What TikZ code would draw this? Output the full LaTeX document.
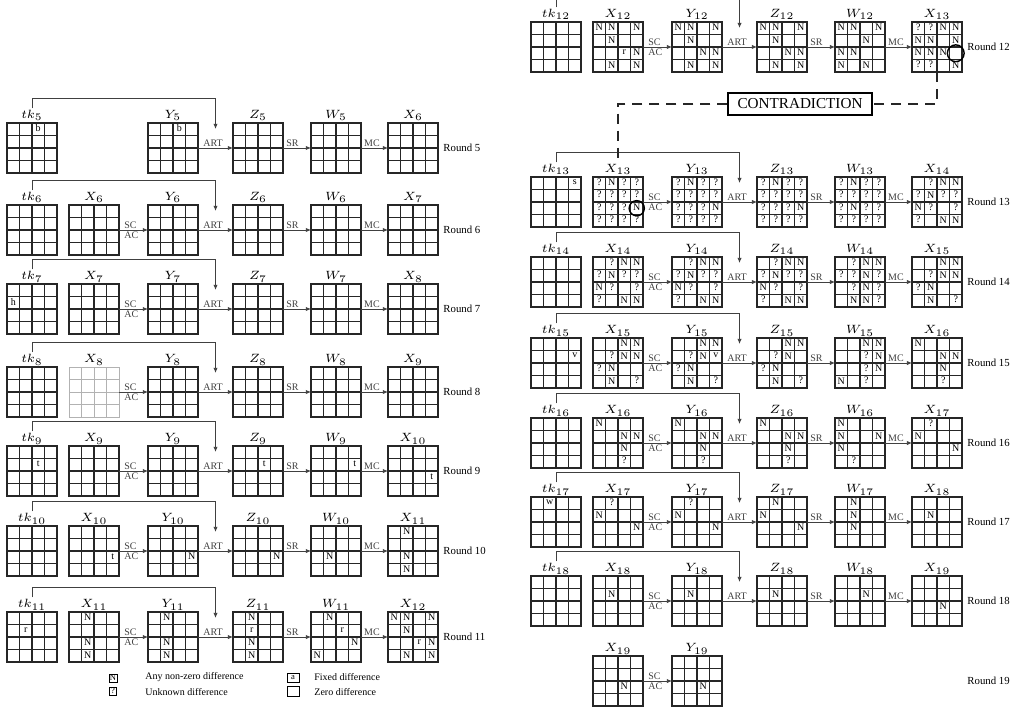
\documentclass[tikz,border=0pt]{standalone}
\usepackage{fontspec}
\setmainfont{Liberation Serif}
\usetikzlibrary{arrows.meta, positioning, calc}

\tikzset{
  stbox/.style  = {minimum size=25pt, inner sep=0pt, outer sep=0pt, anchor=north west},
  gline/.style  = {line width=0.7pt, line cap=rect, black!85},
  fline/.style  = {line width=0.5pt, line cap=rect, black!30},
  cellmark/.style = {inner sep=0pt, yshift=0.5pt, font=\fontsize{5}{5}\selectfont},
  slbl/.style   = {inner sep=0.8pt, font=\fontsize{6.2}{7}\selectfont},
  arr/.style    = {-{Latex[length=2.6pt,width=2.2pt]}, line width=0.45pt, black!75},
  opl/.style    = {inner sep=0.7pt, font=\fontsize{5}{6}\selectfont},
  rlbl/.style   = {anchor=west, inner sep=0pt, font=\fontsize{5.4}{6}\selectfont},
  ring/.style   = {line width=0.7pt, black},
  dline/.style  = {line width=0.6pt, black!85, dash pattern=on 5pt off 3.5pt},
  contra/.style = {draw, line width=0.6pt, minimum width=72pt, minimum height=11pt,
                   inner sep=2pt, font=\fontsize{7.6}{8}\selectfont},
  legbox/.style = {draw, line width=0.35pt, inner sep=0.4pt, minimum width=3.8pt,
                   minimum height=4pt, font=\fontsize{4.3}{4.5}\selectfont},
  legtxt/.style = {anchor=west, inner sep=0pt, font=\fontsize{5}{5.5}\selectfont},
}

% one 4x4 state: [line style] name, x, y (top left), label
\newcommand\stt[5][gline]{%
  \node[stbox] (#2) at (#3,#4) {};
  \foreach \k in {0,...,4} {
    \draw[#1] (#3+\k*12.5,#4) -- ++(0,50);
    \draw[#1] (#3,#4+\k*12.5) -- ++(50,0);
  }
  \node[slbl, above=0pt of #2] (#2-l) {$#5$};
}

% marked cells: state name, list of row/col/text
\newcommand\cells[2]{%
  \foreach \ri/\ci/\ti in {#2} {
    \node[cellmark] (#1-\ri\ci) at ($(#1.north west)+(\ci*12.5+6.25,\ri*12.5+6.25)$) {\ti};
  }
}

% a whole round: [style of X] round, x of tk, y top
\newcommand\fullround[4][gline]{%
  \stt{r#2tk}{#3}{#4}{tk_{#2}}
  \stt[#1]{r#2X}{#3+62}{#4}{X_{#2}}
  \stt{r#2Y}{#3+141}{#4}{Y_{#2}}
  \stt{r#2Z}{#3+226}{#4}{Z_{#2}}
  \stt{r#2W}{#3+304}{#4}{W_{#2}}
  \stt{r#2N}{#3+381}{#4}{X_{\the\numexpr#2+1\relax}}
  \draw[arr] (r#2X) -- node[opl, pos=.12, anchor=south west] (r#2sc) {SC}
                       node[opl, pos=.12, anchor=north west] (r#2ac) {AC} (r#2Y);
  \draw[arr] (r#2Y) -- node[opl, pos=.1, anchor=south west] (r#2art) {ART} (r#2Z);
  \draw[arr] (r#2Z) -- node[opl, pos=.05, anchor=south west] (r#2sr) {SR} (r#2W);
  \draw[arr] (r#2W) -- node[opl, pos=.05, anchor=south west] (r#2mc) {MC} (r#2N);
  \coordinate (r#2k) at ($(r#2Y.east)!0.5!(r#2Z.west)$);
  \draw[arr] (r#2tk-l.north) |- ([yshift=25pt]r#2k) -- ([yshift=9.5pt]r#2k);
  \node[rlbl] (r#2lab) at (#3+436,#4+25) {Round #2};
}

\begin{document}
\begin{tikzpicture}[x=0.5pt, y=-0.5pt]
  \useasboundingbox (0,0) rectangle (1016,711);

  % --- left column: rounds 5 to 11 ---
  \stt{r5tk}{7}{123}{tk_{5}}
  \stt{r5Y}{148}{123}{Y_{5}}
  \stt{r5Z}{233}{123}{Z_{5}}
  \stt{r5W}{311}{123}{W_{5}}
  \stt{r5N}{388}{123}{X_{6}}
  \draw[arr] (r5Y) -- node[opl, pos=.1, anchor=south west] (r5art) {ART} (r5Z);
  \draw[arr] (r5Z) -- node[opl, pos=.05, anchor=south west] (r5sr) {SR} (r5W);
  \draw[arr] (r5W) -- node[opl, pos=.05, anchor=south west] (r5mc) {MC} (r5N);
  \coordinate (r5k) at ($(r5Y.east)!0.5!(r5Z.west)$);
  \draw[arr] (r5tk-l.north) |- ([yshift=25pt]r5k) -- ([yshift=9.5pt]r5k);
  \node[rlbl] (r5lab) at (443,148) {Round 5};
  \cells{r5tk}{0/2/b}
  \cells{r5Y}{0/2/b}

  \fullround{6}{7}{205}
  \fullround{7}{7}{284}
  \cells{r7tk}{1/0/h}
  \fullround[fline]{8}{7}{367}
  \fullround{9}{7}{446}
  \cells{r9tk}{1/2/t}
  \cells{r9Z}{1/2/t}
  \cells{r9W}{1/3/t}
  \cells{r9N}{2/3/t}
  \fullround{10}{7}{526}
  \cells{r10X}{2/3/t}
  \cells{r10Y}{2/3/N}
  \cells{r10Z}{2/3/N}
  \cells{r10W}{2/1/N}
  \cells{r10N}{0/1/N, 2/1/N, 3/1/N}
  \fullround{11}{7}{612}
  \cells{r11tk}{1/1/r}
  \cells{r11X}{0/1/N, 2/1/N, 3/1/N}
  \cells{r11Y}{0/1/N, 2/1/N, 3/1/N}
  \cells{r11Z}{0/1/N, 1/1/r, 2/1/N, 3/1/N}
  \cells{r11W}{0/1/N, 1/2/r, 2/3/N, 3/0/N}
  \cells{r11N}{0/0/N, 0/1/N, 0/3/N, 1/1/N, 2/2/r, 2/3/N, 3/1/N, 3/3/N}

  % --- right column: rounds 12 to 19 ---
  \fullround{12}{531}{22}
  \cells{r12X}{0/0/N, 0/1/N, 0/3/N, 1/1/N, 2/2/r, 2/3/N, 3/1/N, 3/3/N}
  \cells{r12Y}{0/0/N, 0/1/N, 0/3/N, 1/1/N, 2/2/N, 2/3/N, 3/1/N, 3/3/N}
  \cells{r12Z}{0/0/N, 0/1/N, 0/3/N, 1/1/N, 2/2/N, 2/3/N, 3/1/N, 3/3/N}
  \cells{r12W}{0/0/N, 0/1/N, 0/3/N, 1/2/N, 2/0/N, 2/1/N, 3/0/N, 3/2/N}
  \cells{r12N}{0/0/?, 0/1/?, 0/2/N, 0/3/N, 1/0/N, 1/1/N, 1/3/N,
               2/0/N, 2/1/N, 2/2/N, 3/0/?, 3/1/?, 3/3/N}
  \draw[ring] ($(r12N.north west)+(43.75,31.25)$) circle[radius=4.2pt];

  \fullround{13}{531}{177}
  \cells{r13tk}{0/3/s}
  \cells{r13X}{0/0/?, 0/1/N, 0/2/?, 0/3/?, 1/0/?, 1/1/?, 1/2/?, 1/3/?,
               2/0/?, 2/1/?, 2/2/?, 2/3/N, 3/0/?, 3/1/?, 3/2/?, 3/3/?}
  \cells{r13Y}{0/0/?, 0/1/N, 0/2/?, 0/3/?, 1/0/?, 1/1/?, 1/2/?, 1/3/?,
               2/0/?, 2/1/?, 2/2/?, 2/3/N, 3/0/?, 3/1/?, 3/2/?, 3/3/?}
  \cells{r13Z}{0/0/?, 0/1/N, 0/2/?, 0/3/?, 1/0/?, 1/1/?, 1/2/?, 1/3/?,
               2/0/?, 2/1/?, 2/2/?, 2/3/N, 3/0/?, 3/1/?, 3/2/?, 3/3/?}
  \cells{r13W}{0/0/?, 0/1/N, 0/2/?, 0/3/?, 1/0/?, 1/1/?, 1/2/?, 1/3/?,
               2/0/?, 2/1/N, 2/2/?, 2/3/?, 3/0/?, 3/1/?, 3/2/?, 3/3/?}
  \cells{r13N}{0/1/?, 0/2/N, 0/3/N, 1/0/?, 1/1/N, 1/2/?, 1/3/?,
               2/0/N, 2/1/?, 2/3/?, 3/0/?, 3/2/N, 3/3/N}
  \draw[ring] ($(r13X.north west)+(43.75,31.25)$) circle[radius=3.8pt];

  % contradiction between rounds 12 and 13
  \node[contra] (contra) at (800,104) {CONTRADICTION};
  \draw[dline] (r12N.south) |- (contra.east);
  \draw[dline] (contra.west) -| (r13X-l.north);

  \fullround{14}{531}{257}
  \cells{r14X}{0/1/?, 0/2/N, 0/3/N, 1/0/?, 1/1/N, 1/2/?, 1/3/?,
               2/0/N, 2/1/?, 2/3/?, 3/0/?, 3/2/N, 3/3/N}
  \cells{r14Y}{0/1/?, 0/2/N, 0/3/N, 1/0/?, 1/1/N, 1/2/?, 1/3/?,
               2/0/N, 2/1/?, 2/3/?, 3/0/?, 3/2/N, 3/3/N}
  \cells{r14Z}{0/1/?, 0/2/N, 0/3/N, 1/0/?, 1/1/N, 1/2/?, 1/3/?,
               2/0/N, 2/1/?, 2/3/?, 3/0/?, 3/2/N, 3/3/N}
  \cells{r14W}{0/1/?, 0/2/N, 0/3/N, 1/0/?, 1/1/?, 1/2/N, 1/3/?,
               2/1/?, 2/2/N, 2/3/?, 3/1/N, 3/2/N, 3/3/?}
  \cells{r14N}{0/2/N, 0/3/N, 1/1/?, 1/2/N, 1/3/N, 2/0/?, 2/1/N, 3/1/N, 3/3/?}

  \fullround{15}{531}{338}
  \cells{r15tk}{1/3/v}
  \cells{r15X}{0/2/N, 0/3/N, 1/1/?, 1/2/N, 1/3/N, 2/0/?, 2/1/N, 3/1/N, 3/3/?}
  \cells{r15Y}{0/2/N, 0/3/N, 1/1/?, 1/2/N, 1/3/v, 2/0/?, 2/1/N, 3/1/N, 3/3/?}
  \cells{r15Z}{0/2/N, 0/3/N, 1/1/?, 1/2/N, 2/0/?, 2/1/N, 3/1/N, 3/3/?}
  \cells{r15W}{0/2/N, 0/3/N, 1/2/?, 1/3/N, 2/2/?, 2/3/N, 3/0/N, 3/2/?}
  \cells{r15N}{0/0/N, 1/2/N, 1/3/N, 2/2/N, 3/2/?}

  \fullround{16}{531}{418}
  \cells{r16X}{0/0/N, 1/2/N, 1/3/N, 2/2/N, 3/2/?}
  \cells{r16Y}{0/0/N, 1/2/N, 1/3/N, 2/2/N, 3/2/?}
  \cells{r16Z}{0/0/N, 1/2/N, 1/3/N, 2/2/N, 3/2/?}
  \cells{r16W}{0/0/N, 1/0/N, 1/3/N, 2/0/N, 3/1/?}
  \cells{r16N}{0/1/?, 1/0/N, 2/3/N}

  \fullround{17}{531}{497}
  \cells{r17tk}{0/1/w}
  \cells{r17X}{0/1/?, 1/0/N, 2/3/N}
  \cells{r17Y}{0/1/?, 1/0/N, 2/3/N}
  \cells{r17Z}{0/1/N, 1/0/N, 2/3/N}
  \cells{r17W}{0/1/N, 1/1/N, 2/1/N}
  \cells{r17N}{1/1/N}

  \fullround{18}{531}{576}
  \cells{r18X}{1/1/N}
  \cells{r18Y}{1/1/N}
  \cells{r18Z}{1/1/N}
  \cells{r18W}{1/2/N}
  \cells{r18N}{2/2/N}

  \stt{r19X}{593}{656}{X_{19}}
  \stt{r19Y}{672}{656}{Y_{19}}
  \draw[arr] (r19X) -- node[opl, pos=.12, anchor=south west] (r19sc) {SC}
                       node[opl, pos=.12, anchor=north west] (r19ac) {AC} (r19Y);
  \cells{r19X}{2/2/N}
  \cells{r19Y}{2/2/N}
  \node[rlbl] (r19lab) at (967,681) {Round 19};

  % legend
  \node[legbox] (legN) at (113,678) {N};
  \node[legtxt] (legNt) at (145,677) {Any non-zero difference};
  \node[legbox] (legQ) at (113,691) {?};
  \node[legtxt] (legQt) at (145,692) {Unknown difference};
  \node[legbox, minimum width=6pt, minimum height=4.6pt] (legA) at (293,678) {a};
  \node[legtxt] (legAt) at (314,677) {Fixed difference};
  \node[legbox, minimum width=6pt, minimum height=5pt] (legZ) at (293,691) {};
  \node[legtxt] (legZt) at (314,692) {Zero difference};
\end{tikzpicture}
\end{document}
